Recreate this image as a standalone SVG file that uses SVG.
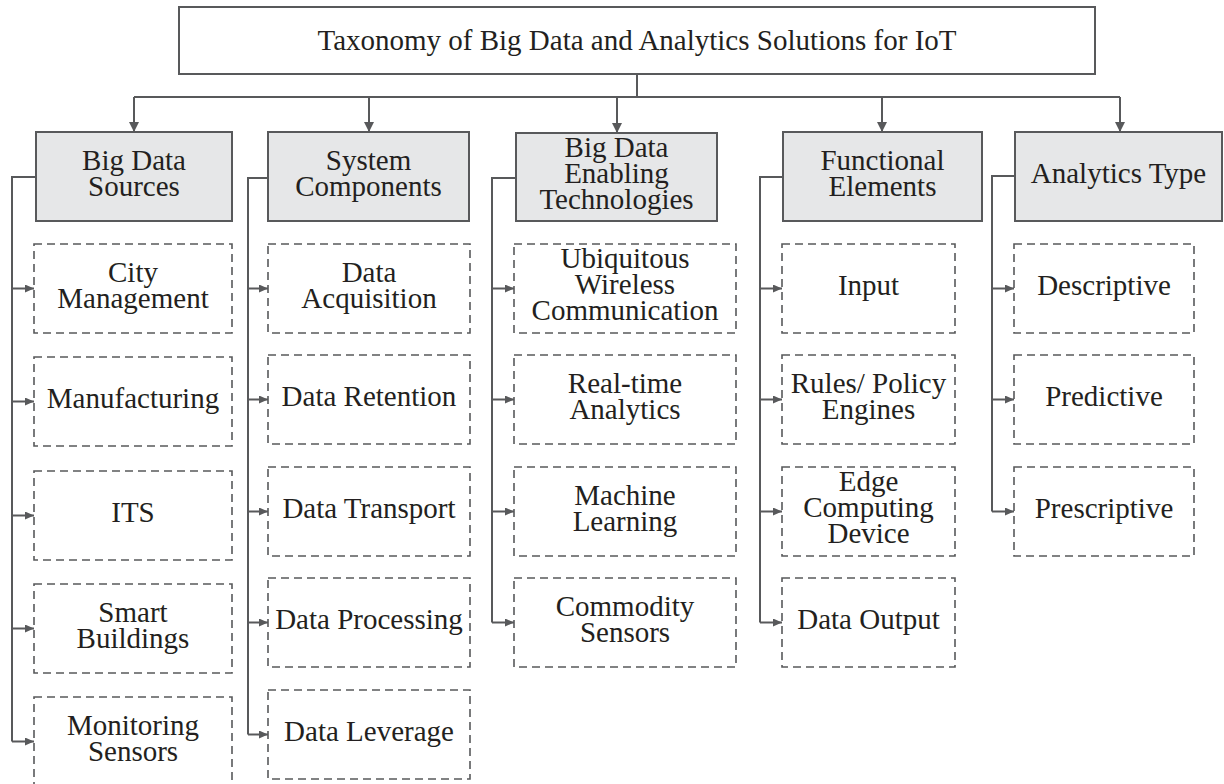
<svg xmlns="http://www.w3.org/2000/svg" width="1224" height="784" viewBox="0 0 1224 784">
<style>
  text { font-family: "Liberation Serif", "Times New Roman", serif; font-size: 29px; fill: #231f20; text-anchor: middle; }
  .title { fill: #ffffff; stroke: #58595b; stroke-width: 2; }
  .cat { fill: #e6e7e8; stroke: #58595b; stroke-width: 2; }
  .item { fill: #ffffff; stroke: #58595b; stroke-width: 1.6; stroke-dasharray: 8 5; }
  .conn { fill: none; stroke: #58595b; stroke-width: 2; }
</style>
<defs>
  <marker id="down" markerUnits="userSpaceOnUse" markerWidth="12" markerHeight="12" refX="10" refY="5" orient="auto">
    <path d="M0,0 L10,5 L0,10 Z" fill="#58595b"/>
  </marker>
  <marker id="side" markerUnits="userSpaceOnUse" markerWidth="10" markerHeight="10" refX="9" refY="4" orient="auto">
    <path d="M0,0 L9,4 L0,8 Z" fill="#58595b"/>
  </marker>
</defs>
<rect width="1224" height="784" fill="#ffffff"/>

<g id="connectors">
  <path class="conn" d="M637,74 V97"/>
  <path class="conn" d="M134,97 H1120"/>
  <path class="conn" d="M134,97 V132" marker-end="url(#down)"/>
  <path class="conn" d="M369,97 V132" marker-end="url(#down)"/>
  <path class="conn" d="M617,97 V133" marker-end="url(#down)"/>
  <path class="conn" d="M882,97 V132" marker-end="url(#down)"/>
  <path class="conn" d="M1120,97 V132" marker-end="url(#down)"/>

  <path class="conn" d="M36,177 H12 V741.5"/>
  <path class="conn" d="M12,288.5 H34" marker-end="url(#side)"/>
  <path class="conn" d="M12,401.5 H34" marker-end="url(#side)"/>
  <path class="conn" d="M12,515.5 H34" marker-end="url(#side)"/>
  <path class="conn" d="M12,628.5 H34" marker-end="url(#side)"/>
  <path class="conn" d="M12,741.5 H34" marker-end="url(#side)"/>

  <path class="conn" d="M268,178 H248 V734.5"/>
  <path class="conn" d="M248,288.5 H268" marker-end="url(#side)"/>
  <path class="conn" d="M248,399.5 H268" marker-end="url(#side)"/>
  <path class="conn" d="M248,511.5 H268" marker-end="url(#side)"/>
  <path class="conn" d="M248,622.5 H268" marker-end="url(#side)"/>
  <path class="conn" d="M248,734.5 H268" marker-end="url(#side)"/>

  <path class="conn" d="M516,178 H492 V622.5"/>
  <path class="conn" d="M492,288.5 H514" marker-end="url(#side)"/>
  <path class="conn" d="M492,399.5 H514" marker-end="url(#side)"/>
  <path class="conn" d="M492,511.5 H514" marker-end="url(#side)"/>
  <path class="conn" d="M492,622.5 H514" marker-end="url(#side)"/>

  <path class="conn" d="M783,177 H760 V622.5"/>
  <path class="conn" d="M760,288.5 H782" marker-end="url(#side)"/>
  <path class="conn" d="M760,399.5 H782" marker-end="url(#side)"/>
  <path class="conn" d="M760,511.5 H782" marker-end="url(#side)"/>
  <path class="conn" d="M760,622.5 H782" marker-end="url(#side)"/>

  <path class="conn" d="M1015,176 H992 V511.5"/>
  <path class="conn" d="M992,288.5 H1014" marker-end="url(#side)"/>
  <path class="conn" d="M992,399.5 H1014" marker-end="url(#side)"/>
  <path class="conn" d="M992,511.5 H1014" marker-end="url(#side)"/>
</g>

<g id="root">
  <rect class="title" x="179" y="7" width="916" height="67"/>
  <text x="637" y="50">Taxonomy of Big Data and Analytics Solutions for IoT</text>
</g>

<g id="cat-sources">
  <rect class="cat" x="36" y="132" width="196" height="89"/>
  <text x="134" y="169.5">Big Data</text>
  <text x="134" y="195.5">Sources</text>
</g>
<g id="cat-components">
  <rect class="cat" x="268" y="132" width="201" height="89"/>
  <text x="368.5" y="169.5">System</text>
  <text x="368.5" y="195.5">Components</text>
</g>
<g id="cat-technologies">
  <rect class="cat" x="516" y="133" width="201" height="88"/>
  <text x="616.5" y="157">Big Data</text>
  <text x="616.5" y="183">Enabling</text>
  <text x="616.5" y="209">Technologies</text>
</g>
<g id="cat-functional">
  <rect class="cat" x="783" y="132" width="199" height="89"/>
  <text x="882.5" y="169.5">Functional</text>
  <text x="882.5" y="195.5">Elements</text>
</g>
<g id="cat-analytics">
  <rect class="cat" x="1015" y="132" width="207" height="89"/>
  <text x="1118.5" y="183">Analytics Type</text>
</g>

<g id="city-management">
  <rect class="item" x="34" y="244" width="198" height="89"/>
  <text x="133" y="282">City</text>
  <text x="133" y="308">Management</text>
</g>
<g id="manufacturing">
  <rect class="item" x="34" y="357" width="198" height="89"/>
  <text x="133" y="408">Manufacturing</text>
</g>
<g id="its">
  <rect class="item" x="34" y="471" width="198" height="89"/>
  <text x="133" y="522">ITS</text>
</g>
<g id="smart-buildings">
  <rect class="item" x="34" y="584" width="198" height="89"/>
  <text x="133" y="622">Smart</text>
  <text x="133" y="648">Buildings</text>
</g>
<g id="monitoring-sensors">
  <rect class="item" x="34" y="697" width="198" height="89"/>
  <text x="133" y="735">Monitoring</text>
  <text x="133" y="761">Sensors</text>
</g>

<g id="data-acquisition">
  <rect class="item" x="268" y="244" width="202" height="89"/>
  <text x="369" y="282">Data</text>
  <text x="369" y="308">Acquisition</text>
</g>
<g id="data-retention">
  <rect class="item" x="268" y="355" width="202" height="89"/>
  <text x="369" y="406">Data Retention</text>
</g>
<g id="data-transport">
  <rect class="item" x="268" y="467" width="202" height="89"/>
  <text x="369" y="518">Data Transport</text>
</g>
<g id="data-processing">
  <rect class="item" x="268" y="578" width="202" height="89"/>
  <text x="369" y="629">Data Processing</text>
</g>
<g id="data-leverage">
  <rect class="item" x="268" y="690" width="202" height="89"/>
  <text x="369" y="741">Data Leverage</text>
</g>

<g id="ubiquitous">
  <rect class="item" x="514" y="244" width="222" height="89"/>
  <text x="625" y="268">Ubiquitous</text>
  <text x="625" y="294">Wireless</text>
  <text x="625" y="320">Communication</text>
</g>
<g id="real-time">
  <rect class="item" x="514" y="355" width="222" height="89"/>
  <text x="625" y="393">Real-time</text>
  <text x="625" y="419">Analytics</text>
</g>
<g id="machine-learning">
  <rect class="item" x="514" y="467" width="222" height="89"/>
  <text x="625" y="505">Machine</text>
  <text x="625" y="531">Learning</text>
</g>
<g id="commodity-sensors">
  <rect class="item" x="514" y="578" width="222" height="89"/>
  <text x="625" y="616">Commodity</text>
  <text x="625" y="642">Sensors</text>
</g>

<g id="input">
  <rect class="item" x="782" y="244" width="173" height="89"/>
  <text x="868.5" y="295">Input</text>
</g>
<g id="rules">
  <rect class="item" x="782" y="355" width="173" height="89"/>
  <text x="868.5" y="393">Rules/ Policy</text>
  <text x="868.5" y="419">Engines</text>
</g>
<g id="edge">
  <rect class="item" x="782" y="467" width="173" height="89"/>
  <text x="868.5" y="491">Edge</text>
  <text x="868.5" y="517">Computing</text>
  <text x="868.5" y="543">Device</text>
</g>
<g id="data-output">
  <rect class="item" x="782" y="578" width="173" height="89"/>
  <text x="868.5" y="629">Data Output</text>
</g>

<g id="descriptive">
  <rect class="item" x="1014" y="244" width="180" height="89"/>
  <text x="1104" y="295">Descriptive</text>
</g>
<g id="predictive">
  <rect class="item" x="1014" y="355" width="180" height="89"/>
  <text x="1104" y="406">Predictive</text>
</g>
<g id="prescriptive">
  <rect class="item" x="1014" y="467" width="180" height="89"/>
  <text x="1104" y="518">Prescriptive</text>
</g>
</svg>
